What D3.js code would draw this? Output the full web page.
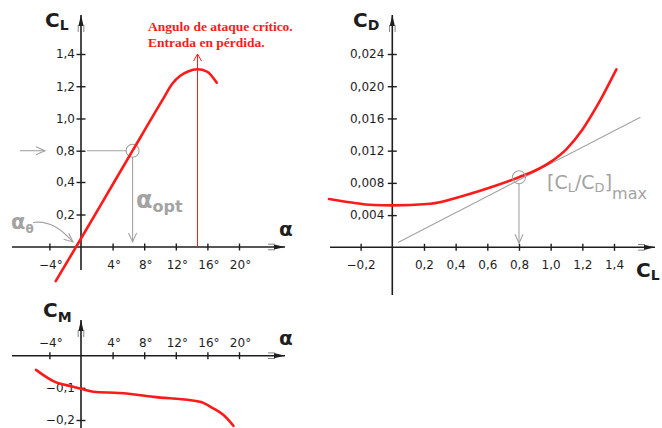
<!DOCTYPE html>
<html><head><meta charset="utf-8">
<script src="https://cdn.jsdelivr.net/npm/d3@7"></script>
<style>
body{margin:0;background:#fff}
svg{display:block}
text{font-family:"DejaVu Sans",Verdana,sans-serif}
</style>
</head><body>
<svg id="c" width="662" height="428"></svg>
<script>
// Lift curve C_L(α)
const liftAlpha = [-3.2, -0.63, 4.2, 6.53, 10.32, 11.58, 12.53, 13.54, 14.75, 15.95, 17.18];
const liftCL    = [-0.21, 0, 0.4, 0.8, 1.115, 1.217, 1.263, 1.291, 1.305, 1.291, 1.222];
// Pitching moment C_M(α)
const momAlpha = [-5.7, -3.5, -0.76, 0, 1.56, 4.94, 9.15, 15.06, 16.75, 18.0, 19.3];
const momCM    = [-0.044, -0.079, -0.098, -0.103, -0.112, -0.116, -0.128, -0.143, -0.164, -0.184, -0.218];
// Drag polar C_D(C_L)
const polarCL = [-0.40, -0.27, -0.12, 0, 0.24, 0.45, 0.66, 0.80, 0.90, 1.00, 1.10, 1.20, 1.30, 1.415];
const polarCD = [0.0060, 0.0056, 0.00525, 0.0052, 0.0054, 0.0064, 0.0077, 0.0087, 0.0095, 0.0106, 0.0122, 0.0146, 0.0178, 0.0221];
// Tangent from the origin touching the polar
const tangentCL = [0.036, 1.567];
const tangentCD = [0.0006, 0.01615];

// Characteristic points
const alphaZero = -0.63, alphaOpt = 6.53, clOpt = 0.8, alphaStall = 14.75;
const cdOpt = 0.0087;

// Tick values and labels
const alphaTicks = [-4, 4, 8, 12, 16, 20];
const alphaLabels = ["−4°", "4°", "8°", "12°", "16°", "20°"];
const clTicks = [0.2, 0.4, 0.8, 1.0, 1.2, 1.4];
const clLabels = ["0,2", "0,4", "0,8", "1,0", "1,2", "1,4"];
const cmTicks = [-0.1, -0.2];
const cmLabels = ["−0,1", "−0,2"];
const polarTicks = [-0.2, 0.2, 0.4, 0.6, 0.8, 1.0, 1.2, 1.4];
const polarLabels = ["−0,2", "0,2", "0,4", "0,6", "0,8", "1,0", "1,2", "1,4"];
const cdTicks = [0.004, 0.008, 0.012, 0.016, 0.020, 0.024];
const cdLabels = ["0,004", "0,008", "0,012", "0,016", "0,020", "0,024"];

const RED = "#ff1a1a", GRAY = "#a3a3a3", INK = "#1e1e1e";
const svg = d3.select("#c");

// Scales
const xA = d3.scaleLinear().domain([0, 20]).range([81, 239]);
const yL = d3.scaleLinear().domain([-0.4, 0, 0.4, 0.8, 1.4]).range([312, 247, 182, 150.7, 54]);
const yM = d3.scaleLinear().domain([0, -0.2]).range([355.7, 420]);
const xP = d3.scaleLinear().domain([0, 1.4]).range([392.3, 614]);
const yP = d3.scaleLinear().domain([0, 0.024]).range([247.3, 54]);

// Axis line with a small arrow at its end
function axisLine(x1, y1, x2, y2) {
  svg.append("line").attr("x1", x1).attr("y1", y1).attr("x2", x2).attr("y2", y2)
    .attr("stroke", INK).attr("stroke-width", 1.6);
  const ang = Math.atan2(y2 - y1, x2 - x1) * 180 / Math.PI;
  const g = svg.append("g").attr("transform", `translate(${x2},${y2}) rotate(${ang})`);
  g.append("path").attr("d", "M0,0 L-11,-2.6 L-11,2.6 Z").attr("fill", INK);
  g.append("path").attr("d", "M-10,-2.8 L-17,-2.8 M-10,2.8 L-17,2.8")
    .attr("stroke", "#777").attr("stroke-width", 0.9);
}

function yAxisTicks(scale, x, vals, labels, lx) {
  const ax = d3.axisLeft(scale).tickValues(vals).tickFormat((d, i) => labels[i]).tickSize(0).tickPadding(0);
  const g = svg.append("g").attr("transform", `translate(${x},0)`).call(ax);
  g.select(".domain").remove();
  g.selectAll(".tick line").attr("x1", -4.5).attr("x2", 4.5).attr("stroke", INK).attr("stroke-width", 1.4);
  g.selectAll(".tick text").attr("x", lx).attr("fill", INK)
    .style("font-size", "12px").style("font-family", '"DejaVu Sans",sans-serif');
}

function xAxisTicks(scale, y, vals, labels, ly, dx) {
  const ax = d3.axisBottom(scale).tickValues(vals).tickFormat((d, i) => labels[i]).tickSize(0).tickPadding(0);
  const g = svg.append("g").attr("transform", `translate(0,${y})`).call(ax);
  g.select(".domain").remove();
  g.selectAll(".tick line").attr("y1", -3.5).attr("y2", 3.5).attr("stroke", INK).attr("stroke-width", 1.4);
  g.selectAll(".tick text").attr("y", ly).attr("dy", "0.35em").attr("dx", dx).attr("fill", INK)
    .style("font-size", "12px").style("font-family", '"DejaVu Sans",sans-serif');
}

// Open chevron arrow head pointing along angle (degrees)
function chevron(x, y, ang, color) {
  svg.append("path").attr("transform", `translate(${x},${y}) rotate(${ang})`)
    .attr("d", "M-9,-4 L0,0 L-9,4").attr("fill", "none")
    .attr("stroke", color).attr("stroke-width", 1.1);
}

// Bold symbol with subscript
function symbol(x, y, main, sub, size, subSize, color, weight, subDy) {
  const t = svg.append("text").attr("x", x).attr("y", y).attr("fill", color)
    .style("font-weight", weight);
  t.append("tspan").style("font-size", size + "px").text(main);
  t.append("tspan").style("font-size", subSize + "px").attr("dy", subDy).text(sub);
  return t;
}

/* ---------- C_L(α) ---------- */
axisLine(12, yL(0), 285, yL(0));
axisLine(xA(0), 270, xA(0), 15);
yAxisTicks(yL, xA(0), clTicks, clLabels, -6);
xAxisTicks(xA, yL(0), alphaTicks, alphaLabels, 18, 1);

// stall marker
svg.append("line").attr("x1", xA(alphaStall)).attr("x2", xA(alphaStall))
  .attr("y1", yL(0)).attr("y2", 54).attr("stroke", RED).attr("stroke-width", 1);
svg.append("path").attr("transform", `translate(${xA(alphaStall)},54)`)
  .attr("d", "M-4,7 L0,0 L4,7").attr("fill", "none").attr("stroke", RED).attr("stroke-width", 1);
const note = svg.append("text").attr("fill", RED)
  .style("font-family", '"Liberation Serif","Times New Roman",serif')
  .style("font-weight", "bold").style("font-size", "13.5px");
note.append("tspan").attr("x", 148).attr("y", 31).text("Angulo de ataque crítico.");
note.append("tspan").attr("x", 148).attr("y", 47).text("Entrada en pérdida.");

// optimum markers
svg.append("line").attr("x1", xA(0) + 6).attr("x2", xA(alphaOpt) - 6)
  .attr("y1", yL(clOpt)).attr("y2", yL(clOpt)).attr("stroke", GRAY).attr("stroke-width", 1.1);
svg.append("line").attr("x1", xA(alphaOpt)).attr("x2", xA(alphaOpt))
  .attr("y1", yL(clOpt) + 6).attr("y2", yL(0) - 5).attr("stroke", GRAY).attr("stroke-width", 1.1);
chevron(xA(alphaOpt), yL(0) - 5, 90, GRAY);
svg.append("circle").attr("cx", xA(alphaOpt)).attr("cy", yL(clOpt)).attr("r", 6.5)
  .attr("fill", "none").attr("stroke", GRAY).attr("stroke-width", 1.1);
svg.append("line").attr("x1", 20).attr("x2", 45).attr("y1", yL(clOpt)).attr("y2", yL(clOpt))
  .attr("stroke", GRAY).attr("stroke-width", 1.1);
chevron(45, yL(clOpt), 0, GRAY);
symbol(136, 208, "α", "opt", 24, 16, GRAY, "bold", 4);

// zero-lift angle
symbol(11, 229, "α", "θ", 21, 12, GRAY, "bold", 4);
svg.append("path").attr("d", `M33,222.5 C50,220 62,230 ${xA(alphaZero) - 3},${yL(0) - 5}`)
  .attr("fill", "none").attr("stroke", GRAY).attr("stroke-width", 1.1);
chevron(xA(alphaZero) - 3, yL(0) - 5, 40, GRAY);

// lift curve
const liftLine = d3.line().x(d => xA(d[0])).y(d => yL(d[1])).curve(d3.curveMonotoneX);
svg.append("path").datum(d3.zip(liftAlpha, liftCL)).attr("d", liftLine)
  .attr("fill", "none").attr("stroke", RED).attr("stroke-width", 2.6).attr("stroke-linecap", "round");

symbol(45, 27, "C", "L", 20, 14, INK, "bold", 3);
svg.append("text").attr("x", 279).attr("y", 236).attr("fill", INK)
  .style("font-size", "20px").style("font-weight", "bold").text("α");

/* ---------- C_M(α) ---------- */
axisLine(12, yM(0), 285, yM(0));
axisLine(xA(0), 428, xA(0), 320);
yAxisTicks(yM, xA(0), cmTicks, cmLabels, -6);
xAxisTicks(xA, yM(0), alphaTicks, alphaLabels, -13, 1);

const momLine = d3.line().x(d => xA(d[0])).y(d => yM(d[1])).curve(d3.curveMonotoneX);
svg.append("path").datum(d3.zip(momAlpha, momCM)).attr("d", momLine)
  .attr("fill", "none").attr("stroke", RED).attr("stroke-width", 2.6).attr("stroke-linecap", "round");

symbol(43, 317, "C", "M", 20, 14, INK, "bold", 5);
svg.append("text").attr("x", 279).attr("y", 345).attr("fill", INK)
  .style("font-size", "20px").style("font-weight", "bold").text("α");

/* ---------- C_D(C_L) ---------- */
axisLine(330, yP(0), 655, yP(0));
axisLine(xP(0), 295, xP(0), 15);
yAxisTicks(yP, xP(0), cdTicks, cdLabels, -8);
xAxisTicks(xP, yP(0), polarTicks, polarLabels, 18, 0);

// tangent and optimum
svg.append("line").attr("x1", xP(tangentCL[0])).attr("y1", yP(tangentCD[0]))
  .attr("x2", xP(tangentCL[1])).attr("y2", yP(tangentCD[1]))
  .attr("stroke", GRAY).attr("stroke-width", 1.1);
svg.append("line").attr("x1", xP(clOpt)).attr("x2", xP(clOpt))
  .attr("y1", yP(cdOpt) + 6).attr("y2", yP(0) - 4).attr("stroke", GRAY).attr("stroke-width", 1.1);
chevron(xP(clOpt), yP(0) - 4, 90, GRAY);

const polarLine = d3.line().x(d => xP(d[0])).y(d => yP(d[1])).curve(d3.curveMonotoneX);
svg.append("path").datum(d3.zip(polarCL, polarCD)).attr("d", polarLine)
  .attr("fill", "none").attr("stroke", RED).attr("stroke-width", 2.6).attr("stroke-linecap", "round");
svg.append("circle").attr("cx", xP(clOpt)).attr("cy", yP(cdOpt)).attr("r", 6.5)
  .attr("fill", "none").attr("stroke", GRAY).attr("stroke-width", 1.1);

// [C_L/C_D]_max
const ratio = svg.append("text").attr("x", 547).attr("y", 189).attr("fill", GRAY);
ratio.append("tspan").style("font-size", "19px").text("[C");
ratio.append("tspan").style("font-size", "13px").attr("dy", 3).text("L");
ratio.append("tspan").style("font-size", "19px").attr("dy", -3).text("/C");
ratio.append("tspan").style("font-size", "13px").attr("dy", 3).text("D");
ratio.append("tspan").style("font-size", "19px").attr("dy", -3).text("]");
ratio.append("tspan").style("font-size", "16px").attr("dy", 10).text("max");

symbol(353, 27, "C", "D", 20, 14, INK, "bold", 3);
symbol(636, 277, "C", "L", 20, 14, INK, "bold", 3);
</script>
</body></html>
